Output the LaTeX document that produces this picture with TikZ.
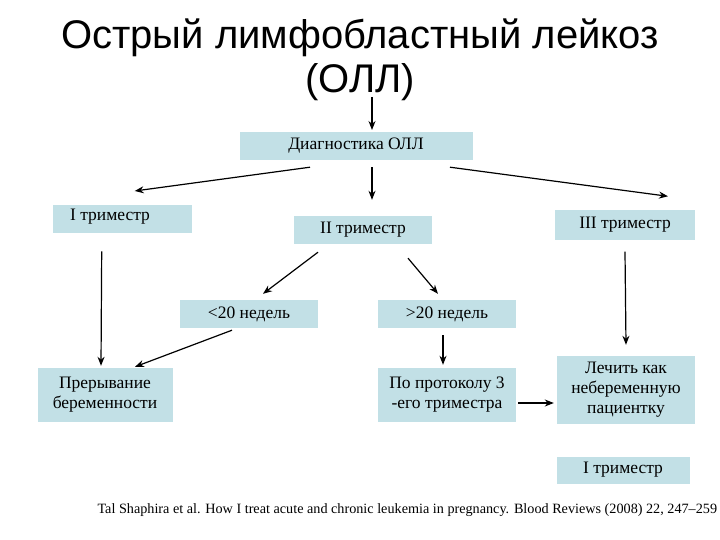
\documentclass[tikz,border=0pt]{standalone}
\usepackage{fontspec}
\setmainfont{Liberation Serif}
\newfontfamily\titlefont{Liberation Sans}
\usetikzlibrary{calc,arrows.meta}
\definecolor{boxc}{HTML}{C2E0E6}
\begin{document}
\begin{tikzpicture}[x=1pt,y=-1pt,
  bx/.style={fill=boxc,draw=none,inner sep=0pt,align=center,font=\fontsize{17.5}{20}\selectfont},
  ar/.style={-{Stealth[length=9pt,width=7pt]},line width=1.2pt}]
\useasboundingbox (0,0) rectangle (720,540);
\node[font=\titlefont\fontsize{40}{44}\selectfont,align=center] (t) at (360,60) {Острый лимфобластный лейкоз\\(ОЛЛ)};
\node[bx,minimum width=233,minimum height=28] (d) at (356,146) {Диагностика ОЛЛ};
\node[bx,minimum width=139,minimum height=28,anchor=north west] (i1) at (53,205) {};
\node at (110,217) [font=\fontsize{17.5}{20}\selectfont] {I триместр};
\node[bx,minimum width=138,minimum height=28] (i2) at (363,230) {II триместр};
\node[bx,minimum width=140,minimum height=29] (i3) at (625,225) {III триместр};
\node[bx,minimum width=138,minimum height=28] (l20) at (249,314) {<20 недель};
\node[bx,minimum width=138,minimum height=28] (g20) at (447,314) {>20 недель};
\node[bx,minimum width=135,minimum height=54] (pr) at (105,395) {Прерывание\\беременности};
\node[bx,minimum width=138,minimum height=54] (po) at (447,395) {По протоколу 3\\-его триместра};
\node[bx,minimum width=138,minimum height=68] (le) at (626,390) {Лечить как\\небеременную\\пациентку};
\node[bx,minimum width=133,minimum height=27] (ib) at (623,470) {I триместр};
\node[font=\fontsize{14.2}{16}\selectfont,anchor=west] (c) at (94,510) {Tal Shaphira et al. How I treat acute and chronic leukemia in pregnancy. Blood Reviews (2008) 22, 247–259};
\draw[ar] (372,97) -- (372,130);
\draw[ar] ($(d.south)+(-46,7)$) -- ($(i1.north)+(12,-14)$);
\draw[ar] ($(d.south)+(16,7)$) -- ($(i2.north)+(9,-16)$);
\draw[ar] ($(d.south)+(94,7)$) -- ($(i3.north)+(43,-14)$);
\draw[ar] ($(i1.south)+(-21,18)$) -- ($(pr.north)+(-4,-2)$);
\draw[ar] ($(i2.south)+(-45,8)$) -- ($(l20.north)+(14,-6)$);
\draw[ar] ($(i2.south)+(45,14)$) -- ($(g20.north)+(-9,-6)$);
\draw[ar] ($(l20.south)+(-17,2)$) -- ($(pr.north)+(30,-1)$);
\draw[ar] ($(g20.south)+(-4,7)$) -- ($(po.north)+(-4,-3)$);
\draw[ar] ($(po.east)+(2,8)$) -- ($(le.west)+(-3,13)$);
\draw[ar] ($(i3.south)+(0,12)$) -- ($(le.north)+(0,-11)$);
\end{tikzpicture}
\end{document}
